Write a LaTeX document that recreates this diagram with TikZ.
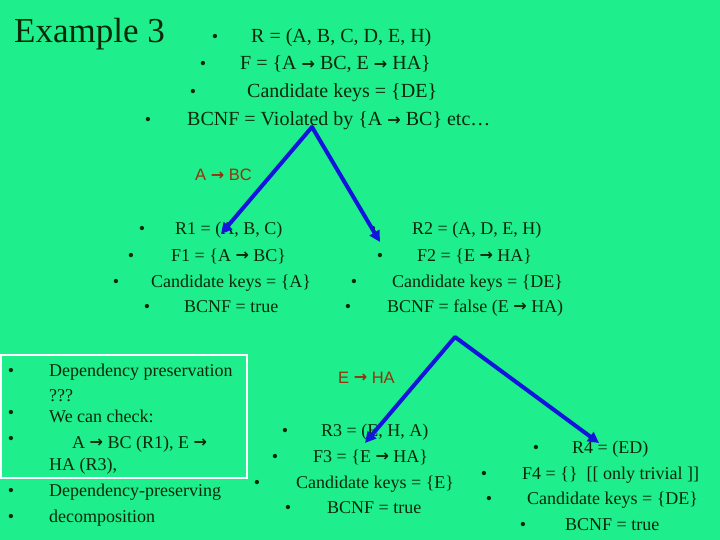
\documentclass[tikz,border=0pt]{standalone}
\usepackage{fontspec}
\setmainfont{Liberation Serif}
\newfontfamily\arw{DejaVu Sans}
\newfontfamily\lsans{Liberation Sans}
\usetikzlibrary{arrows.meta}
\definecolor{bg}{RGB}{30,238,140}
\definecolor{tx}{RGB}{10,40,10}
\definecolor{lbl}{RGB}{150,50,10}
\definecolor{ln}{RGB}{20,20,220}
\newcommand{\ar}{{\arw\bfseries\fontsize{16}{16}\selectfont\raisebox{0.5pt}{→}}}
\begin{document}
\begin{tikzpicture}[x=1pt,y=-1pt,
  t/.style={anchor=base west,inner sep=0pt,text=tx,font=\fontsize{18}{22}\selectfont},
  tt/.style={t,font=\fontsize{20}{24}\selectfont},
  b/.style={anchor=base,inner sep=0pt,text=tx,font=\fontsize{18}{20}\selectfont},
  lab/.style={anchor=base west,inner sep=0pt,text=lbl,font=\lsans\fontsize{16.5}{18}\selectfont},
  bigtip/.tip={Triangle[length=11pt,width=11pt]},
  split/.style={draw=ln,line width=4pt,line join=round}]
\fill[bg] (0,0) rectangle (720,540);
\useasboundingbox (0,0) rectangle (720,540);
\node[t,font=\fontsize{35}{38}\selectfont] (title) at (14,43) {Example 3};
\node[b] (b1) at (215,43) {•}; \node[tt] (l1) at (251,43) {R = (A, B, C, D, E, H)};
\node[b] (b2) at (203,70) {•}; \node[tt] (l2) at (240,70) {F = \{A \ar{} BC, E \ar{} HA\}};
\node[b] (b3) at (193,98) {•}; \node[tt] (l3) at (247,98) {Candidate keys = \{DE\}};
\node[b] (b4) at (148,126) {•}; \node[tt] (l4) at (187,126) {BCNF = Violated by \{A \ar{} BC\} etc…};
\node[lab] (lab1) at (195,181) {A \ar{} BC};
% left R1
\node[b] (c1) at (142,235) {•}; \node[t] (r1) at (175,235) {R1 = (A, B, C)};
\node[b] (c2) at (131,261) {•}; \node[t] (r2) at (171,261) {F1 = \{A \ar{} BC\}};
\node[b] (c3) at (116,287) {•}; \node[t] (r3) at (151,287) {Candidate keys = \{A\}};
\node[b] (c4) at (147,312) {•}; \node[t] (r4) at (184,312) {BCNF = true};
% right R2
\node[b] (d1) at (373,235) {•}; \node[t] (s1) at (412,235) {R2 = (A, D, E, H)};
\node[b] (d2) at (380,261) {•}; \node[t] (s2) at (417,261) {F2 = \{E \ar{} HA\}};
\node[b] (d3) at (354,287) {•}; \node[t] (s3) at (392,287) {Candidate keys = \{DE\}};
\node[b] (d4) at (348,312) {•}; \node[t] (s4) at (387,312) {BCNF = false (E \ar{} HA)};
\node[lab] (lab2) at (338,383) {E \ar{} HA};
% box
\draw[white,line width=1.5pt] (1,355) rectangle (247,478);
\node[b] (e1) at (11,376) {•}; \node[t] (f1) at (49,376) {Dependency preservation};
\node[t] (f1b) at (49,401) {???};
\node[b] (e2) at (11,418) {•}; \node[t] (f2) at (49,422) {We can check:};
\node[b] (e3) at (11,444) {•}; \node[t] (f3) at (72,448) {A \ar{} BC (R1), E \ar};
\node[t] (f3b) at (49,470) {HA (R3),};
\node[b] (e4) at (11,496) {•}; \node[t] (f4) at (49,496) {Dependency-preserving};
\node[b] (e5) at (11,522) {•}; \node[t] (f5) at (49,522) {decomposition};
% R3
\node[b] (g1) at (285,436) {•}; \node[t] (h1) at (321,436) {R3 = (E, H, A)};
\node[b] (g2) at (275,462) {•}; \node[t] (h2) at (313,462) {F3 = \{E \ar{} HA\}};
\node[b] (g3) at (257,488) {•}; \node[t] (h3) at (296,488) {Candidate keys = \{E\}};
\node[b] (g4) at (288,513) {•}; \node[t] (h4) at (327,513) {BCNF = true};
% R4
\node[b] (k1) at (536,453) {•}; \node[t] (m1) at (572,453) {R4 = (ED)};
\node[b] (k2) at (484,479) {•}; \node[t] (m2) at (522,479) {F4 = \{\}~~[[ only trivial ]]};
\node[b] (k3) at (489,504) {•}; \node[t] (m3) at (527,504) {Candidate keys = \{DE\}};
\node[b] (k4) at (523,530) {•}; \node[t] (m4) at (565,530) {BCNF = true};
% splits
\coordinate (top1) at (312,127);
\coordinate (tipL1) at (221,234);
\coordinate (tipR1) at (380,242);
\coordinate (top2) at (455,337);
\coordinate (tipL2) at (365,443);
\coordinate (tipR2) at (599,443);
\draw[split,bigtip-bigtip] (tipL1) -- (top1) -- (tipR1);
\draw[split,bigtip-bigtip] (tipL2) -- (top2) -- (tipR2);
\end{tikzpicture}
\end{document}
